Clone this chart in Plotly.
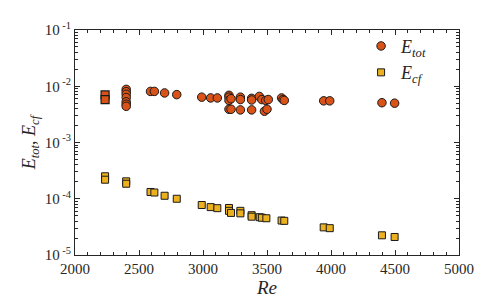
import plotly.graph_objects as go

# E_tot data (Re, value)
re_tot = [2400, 2400, 2400, 2400, 2400, 2400, 2400,
          2590, 2620, 2700, 2795, 2990, 3060, 3112,
          3203, 3203, 3203, 3203, 3219, 3219,
          3292, 3292, 3292, 3380, 3380, 3380,
          3440, 3460, 3490, 3480, 3500, 3510,
          3614, 3625, 3635, 3943, 3990, 4398, 4497]
e_tot = [0.0088, 0.0080, 0.0072, 0.0063, 0.0053, 0.0048, 0.0044,
         0.0081, 0.0081, 0.0076, 0.0071, 0.0064, 0.0062, 0.0062,
         0.0069, 0.0064, 0.0056, 0.0039, 0.0060, 0.0039,
         0.0064, 0.0058, 0.0038, 0.0061, 0.0057, 0.0038,
         0.0066, 0.0058, 0.0056, 0.0036, 0.0039, 0.0058,
         0.0062, 0.0058, 0.0056, 0.0055, 0.0055, 0.0051, 0.0050]

# E_tot points at the lowest Re drawn as squares in the reference
re_tot_sq = [2235, 2235]
e_tot_sq = [0.0070, 0.0058]

# E_cf data
re_cf = [2235, 2235, 2400, 2400, 2590, 2620, 2700, 2795, 2990, 3060, 3112,
         3203, 3203, 3219, 3292, 3292, 3380, 3380,
         3443, 3460, 3495, 3614, 3635, 3943, 3990, 4398, 4497]
e_cf = [2.51e-4, 2.18e-4, 2.04e-4, 1.85e-4, 1.32e-4, 1.29e-4, 1.13e-4, 1.00e-4,
        7.74e-5, 7.1e-5, 6.8e-5,
        6.85e-5, 6.1e-5, 5.6e-5, 6.1e-5, 5.5e-5, 5.1e-5, 4.8e-5,
        4.7e-5, 4.6e-5, 4.5e-5, 4.1e-5, 4.05e-5, 3.1e-5, 3.0e-5, 2.24e-5, 2.09e-5]

y_tickvals = [1e-5, 1e-4, 1e-3, 1e-2, 1e-1]
y_ticktext = ["10<sup> -5</sup>", "10<sup> -4</sup>", "10<sup> -3</sup>",
              "10<sup> -2</sup>", "10<sup> -1</sup>"]
x_tickvals = [2000, 2500, 3000, 3500, 4000, 4500, 5000]

# minor tick positions (axis decoration)
x_minor = [v for v in range(2100, 5000, 100) if v % 500 != 0]
y_minor = [m * 10.0 ** e for e in range(-5, -1) for m in range(2, 10)]

c_tot = "#D95319"
c_cf = "#EDB120"
edge = "#1a1a1a"
axc = "#262626"
font = "Liberation Serif, Times New Roman, serif"

fig = go.Figure()
fig.add_trace(go.Scatter(x=re_cf, y=e_cf, mode="markers", name="<i>E<sub>cf</sub></i>",
                         marker=dict(symbol="square", size=7, color=c_cf,
                                     line=dict(color=edge, width=1)),
                         showlegend=False))
fig.add_trace(go.Scatter(x=re_tot_sq, y=e_tot_sq, mode="markers",
                         marker=dict(symbol="square", size=8, color=c_tot,
                                     line=dict(color=edge, width=1.2)),
                         showlegend=False))
fig.add_trace(go.Scatter(x=re_tot, y=e_tot, mode="markers", name="<i>E<sub>tot</sub></i>",
                         marker=dict(symbol="circle", size=8.5, color=c_tot,
                                     line=dict(color=edge, width=1))))
fig.add_trace(go.Scatter(x=[None], y=[None], mode="markers", name="<i>E<sub>cf</sub></i>",
                         marker=dict(symbol="square", size=7, color=c_cf,
                                     line=dict(color=edge, width=1))))

fig.update_layout(
    width=498, height=298,
    margin=dict(l=67, r=47, t=22, b=51),
    paper_bgcolor="white", plot_bgcolor="white",
    font=dict(family=font, size=15, color=axc),
    legend=dict(x=0.745, y=1.01, xanchor="left", yanchor="top",
                bgcolor="rgba(0,0,0,0)", font=dict(size=18, family=font),
                tracegroupgap=8, itemsizing="trace"),
    xaxis=dict(range=[2000, 5000], tickmode="array", tickvals=x_tickvals,
               ticks="inside", ticklen=5, tickwidth=1,
               mirror="allticks", showline=True, linecolor=axc, linewidth=1,
               showgrid=False, zeroline=False, tickcolor=axc,
               minor=dict(tickmode="array", tickvals=x_minor, ticks="inside", ticklen=3,
                          tickwidth=1, tickcolor=axc, showgrid=False),
               title=dict(text="<i>Re</i>", font=dict(size=19, family=font), standoff=2)),
    yaxis=dict(type="log", range=[-5, -1], tickmode="array", tickvals=y_tickvals,
               ticktext=y_ticktext, ticks="inside", ticklen=5, tickwidth=1,
               mirror="allticks", showline=True,
               linecolor=axc, linewidth=1, showgrid=False, zeroline=False, tickcolor=axc,
               minor=dict(tickmode="array", tickvals=y_minor, ticks="inside", ticklen=3,
                          tickwidth=1, tickcolor=axc, showgrid=False),
               title=dict(text="<i>E<sub>tot</sub></i>, <i>E<sub>cf</sub></i>",
                          font=dict(size=18, family=font), standoff=4)),
)

fig.write_html("out.html")
